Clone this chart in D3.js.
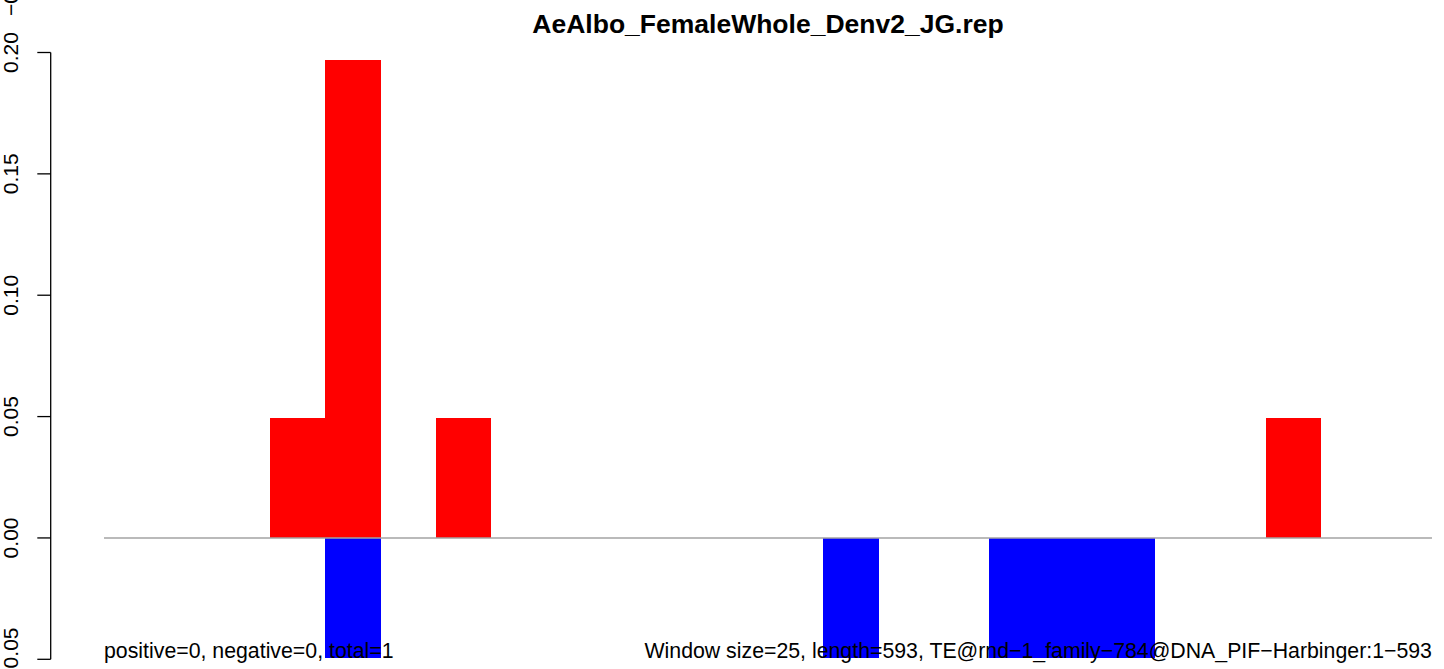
<!DOCTYPE html>
<html>
<head>
<meta charset="utf-8">
<script src="https://cdn.jsdelivr.net/npm/d3@7"></script>
<style>
  html, body { margin: 0; padding: 0; background: #fff; overflow: hidden; }
  svg { display: block; font-family: "Liberation Sans", Arial, Helvetica, sans-serif; }
</style>
</head>
<body>
<svg id="chart" width="1444" height="669"></svg>
<script>
// ---- data ----
const title = "AeAlbo_FemaleWhole_Denv2_JG.rep";
const windowSize = 25;
const seqLength = 593;
const windowStarts = d3.range(0, 600, 25); // 24 windows: 0,25,...,575
const positiveValues = [0, 0, 0, 0.0493, 0.197, 0, 0.0493, 0, 0, 0, 0, 0,
                        0, 0, 0, 0, 0, 0, 0, 0, 0, 0.0493, 0, 0];
const negativeValues = [0, 0, 0, 0, -0.0493, 0, 0, 0, 0, 0, 0, 0,
                        0, -0.0493, 0, 0, -0.0493, -0.0493, -0.0493, 0, 0, 0, 0, 0];
const yTicks = [-0.05, 0.00, 0.05, 0.10, 0.15, 0.20];
const yTickLabels = ["\u22120.05", "0.00", "0.05", "0.10", "0.15", "0.20"];
const ghostLabel = "\u22120.05"; // label of the panel above, cut off at the top edge
const leftNote = "positive=0, negative=0, total=1";
const rightNote = "Window size=25, length=593, TE@rnd\u22121_family\u2212784@DNA_PIF\u2212Harbinger:1\u2212593";

// ---- scales ----
const svg = d3.select("#chart");
const x = d3.scaleLinear().domain([-24, 624]).range([50.9, 1485.1]);
const y = d3.scaleLinear().domain([-0.05, 0.20]).range([659.3, 52.5]);

// ---- bars ----
const posData = windowStarts.map((s, i) => ({s, v: positiveValues[i]})).filter(d => d.v !== 0);
const negData = windowStarts.map((s, i) => ({s, v: negativeValues[i]})).filter(d => d.v !== 0);

svg.append("g").selectAll("rect").data(posData).join("rect")
  .attr("x", d => x(d.s))
  .attr("width", d => x(d.s + windowSize) - x(d.s))
  .attr("y", d => y(d.v))
  .attr("height", d => y(0) - y(d.v))
  .attr("fill", "#ff0000")
  .attr("shape-rendering", "crispEdges");

svg.append("g").selectAll("rect").data(negData).join("rect")
  .attr("x", d => x(d.s))
  .attr("width", d => x(d.s + windowSize) - x(d.s))
  .attr("y", y(0))
  .attr("height", d => y(d.v) - y(0))
  .attr("fill", "#0000ff")
  .attr("shape-rendering", "crispEdges");

// ---- zero line ----
svg.append("line")
  .attr("x1", x(0)).attr("x2", x(600))
  .attr("y1", y(0)).attr("y2", y(0))
  .attr("stroke", "#a3a3a3").attr("stroke-width", 1.4);

// ---- y axis (R style) ----
const axisX = 50.7;
const ax = svg.append("g").attr("stroke", "#000").attr("stroke-width", 1.3).attr("fill", "none");
ax.append("line")
  .attr("x1", axisX).attr("x2", axisX)
  .attr("y1", y(d3.min(yTicks))).attr("y2", y(d3.max(yTicks)));
ax.selectAll("line.tick").data(yTicks).join("line")
  .attr("class", "tick")
  .attr("x1", axisX - 13.4).attr("x2", axisX)
  .attr("y1", d => y(d)).attr("y2", d => y(d));

const labelX = 18.3;
svg.append("g").selectAll("text").data(yTicks).join("text")
  .attr("transform", (d, i) => {
    const yy = (i === 0) ? 627.5 : y(d);
    return `translate(${labelX},${yy}) rotate(-90)`;
  })
  .attr("text-anchor", (d, i) => i === 0 ? "end" : "middle")
  .attr("font-size", 21)
  .attr("fill", "#000")
  .text((d, i) => yTickLabels[i]);

svg.append("text")
  .attr("transform", `translate(${labelX},16) rotate(-90)`)
  .attr("text-anchor", "start")
  .attr("font-size", 21)
  .attr("fill", "#000")
  .text(ghostLabel);

// ---- title ----
svg.append("text")
  .attr("x", (x.range()[0] + x.range()[1]) / 2)
  .attr("y", 33)
  .attr("text-anchor", "middle")
  .attr("font-size", 26.5)
  .attr("font-weight", "bold")
  .attr("fill", "#000")
  .text(title);

// ---- notes ----
svg.append("text")
  .attr("x", x(0)).attr("y", 658)
  .attr("text-anchor", "start")
  .attr("font-size", 21.3)
  .attr("fill", "#000")
  .text(leftNote);

svg.append("text")
  .attr("x", x(600)).attr("y", 658)
  .attr("text-anchor", "end")
  .attr("font-size", 21.3)
  .attr("fill", "#000")
  .text(rightNote);
</script>
</body>
</html>
